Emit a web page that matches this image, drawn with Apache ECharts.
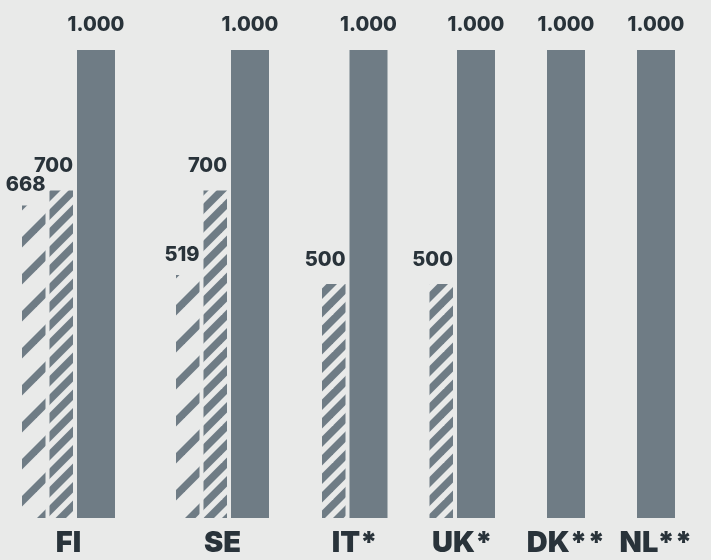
<!DOCTYPE html>
<html>
<head>
<meta charset="utf-8">
<script src="https://cdn.jsdelivr.net/npm/echarts@6/dist/echarts.min.js"></script>
<style>
  html, body { margin: 0; padding: 0; background: #e9eae9; }
  #chart { width: 711px; height: 560px; }
</style>
</head>
<body>
<div id="chart"></div>
<script>
// Country groups and their three values (two hatched levels and the full level)
const categories = ['FI', 'SE', 'IT*', 'UK*', 'DK**', 'NL**'];
const sparseValues = [668, 519, null, null, null, null];
const denseValues = [700, 700, 500, 500, null, null];
const totalValues = [1000, 1000, 1000, 1000, 1000, 1000];

// Layout (in x-axis units; the axis maps one unit to one pixel)
const HATCH_W = 23.5;
const SOLID_W = 38;
const INNER_GAP = 4;
const GROUP_GAPS = [61, 53, 42, 52, 52];

const BAR_COLOR = '#6f7c85';
const TEXT_COLOR = '#29333a';
const BG_COLOR = '#e9eae9';
const FONT = 'Inter, "Open Sans", sans-serif';

// Diagonal stripe tiles for the hatched bars
function stripeTile(size, offsets, thickness) {
  const c = document.createElement('canvas');
  c.width = size; c.height = size;
  const ctx = c.getContext('2d');
  ctx.fillStyle = BAR_COLOR;
  for (let k = -2; k <= 3; k++) {
    offsets.forEach(function (o) {
      const a = k * size + o;
      ctx.beginPath();
      ctx.moveTo(a, 0);
      ctx.lineTo(a + thickness, 0);
      ctx.lineTo(a + thickness - 2 * size, 2 * size);
      ctx.lineTo(a - 2 * size, 2 * size);
      ctx.closePath();
      ctx.fill();
    });
  }
  return c;
}
const densePattern = { image: stripeTile(37, [0, 18.5], 10.5), repeat: 'repeat' };
const sparsePattern = { image: stripeTile(37, [0], 10.5), repeat: 'repeat' };

// Pack each country's bars side by side, groups separated by gaps
const sparseData = [], denseData = [], solidData = [], groupData = [];
let cursor = 0;
categories.forEach(function (name, i) {
  const start = cursor;
  let x = cursor;
  if (sparseValues[i] != null) { sparseData.push([x, x + HATCH_W, sparseValues[i]]); x += HATCH_W + INNER_GAP; }
  if (denseValues[i] != null) { denseData.push([x, x + HATCH_W, denseValues[i]]); x += HATCH_W + INNER_GAP; }
  solidData.push([x, x + SOLID_W, totalValues[i]]);
  x += SOLID_W;
  groupData.push([(start + x) / 2, i]);
  cursor = x + (i < GROUP_GAPS.length ? GROUP_GAPS[i] : 0);
});
const xMax = solidData[solidData.length - 1][1];

function fmt(v) {
  return String(v).replace(/\B(?=(\d{3})+(?!\d))/g, '.');
}

function barRenderer(fill, labelAlign, labelLift) {
  return function (params, api) {
    const xl = api.value(0), xr = api.value(1), v = api.value(2);
    const topLeft = api.coord([xl, v]);
    const bottomRight = api.coord([xr, 0]);
    const lx = labelAlign === 'right' ? bottomRight[0] : (topLeft[0] + bottomRight[0]) / 2;
    return {
      type: 'group',
      children: [
        {
          type: 'rect',
          shape: { x: topLeft[0], y: topLeft[1], width: bottomRight[0] - topLeft[0], height: bottomRight[1] - topLeft[1] },
          style: { fill: fill }
        },
        {
          type: 'text',
          x: lx,
          y: topLeft[1] - labelLift,
          style: {
            text: fmt(v), fill: TEXT_COLOR, fontFamily: FONT, fontSize: 20, fontWeight: 800,
            align: labelAlign, verticalAlign: 'middle'
          }
        }
      ]
    };
  };
}

const chart = echarts.init(document.getElementById('chart'));
chart.setOption({
  backgroundColor: BG_COLOR,
  animation: false,
  grid: { left: 22, right: 711 - 22 - xMax, top: 50, bottom: 42, containLabel: false },
  xAxis: { type: 'value', min: 0, max: xMax, show: false },
  yAxis: { type: 'value', min: 0, max: 1000, show: false },
  series: [
    {
      name: 'sparse', type: 'custom', clip: false, data: sparseData,
      encode: { x: [0, 1], y: 2 },
      renderItem: barRenderer(sparsePattern, 'right', 20)
    },
    {
      name: 'dense', type: 'custom', clip: false, data: denseData,
      encode: { x: [0, 1], y: 2 },
      renderItem: barRenderer(densePattern, 'right', 24)
    },
    {
      name: 'total', type: 'custom', clip: false, data: solidData,
      encode: { x: [0, 1], y: 2 },
      renderItem: barRenderer(BAR_COLOR, 'center', 25)
    },
    {
      name: 'countries', type: 'custom', clip: false, data: groupData,
      encode: { x: 0 },
      renderItem: function (params, api) {
        const p = api.coord([api.value(0), 0]);
        return {
          type: 'text',
          x: p[0],
          y: p[1] + 25,
          style: {
            text: categories[api.value(1)], fill: TEXT_COLOR, fontFamily: FONT,
            fontSize: 29, fontWeight: 900, align: 'center', verticalAlign: 'middle'
          }
        };
      }
    }
  ]
});
</script>
</body>
</html>
